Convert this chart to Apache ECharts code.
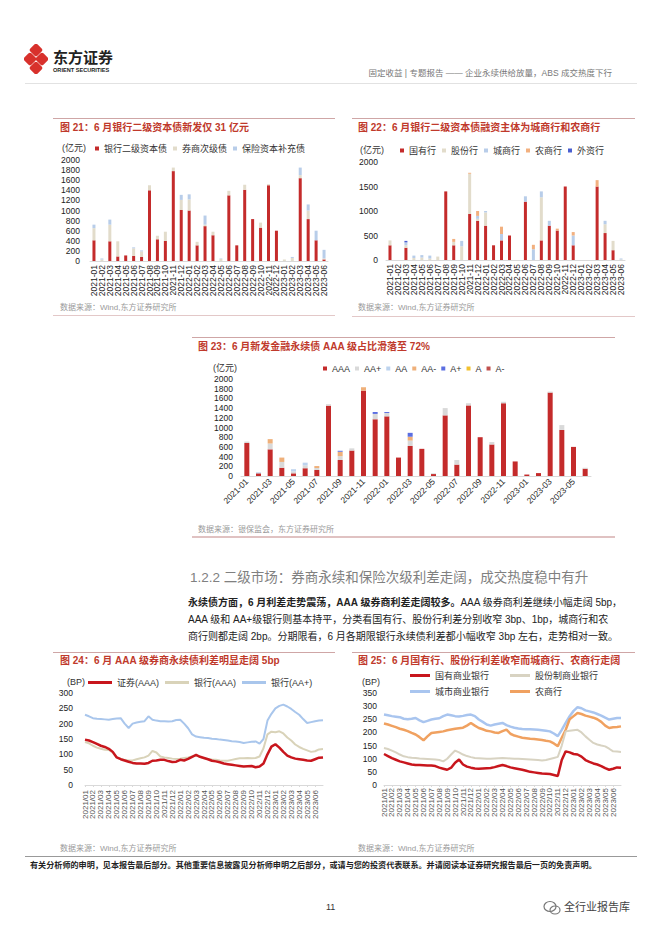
<!DOCTYPE html>
<html><head><meta charset="utf-8">
<script src="https://cdn.jsdelivr.net/npm/echarts@6/dist/echarts.min.js"></script>
<style>
html,body{margin:0;padding:0;background:#fff;}
#page{position:relative;width:660px;height:933px;overflow:hidden;font-family:"Liberation Sans","Noto Sans CJK SC",sans-serif;background:#fff;}
#chart{position:absolute;left:0;top:0;width:660px;height:933px;}
.t{position:absolute;white-space:nowrap;line-height:1;}
.ln{position:absolute;height:0;}
.ttl{font-size:10px;font-weight:bold;color:#c0392b;}
.src{font-size:8px;color:#9a9a9a;}
</style></head>
<body><div id="page"><div id="chart"></div>

<svg style="position:absolute;left:24px;top:44px" width="24" height="30" viewBox="0 0 24 30">
<g fill="#d8312c">
<rect x="7" y="1" width="10" height="10" rx="2" transform="rotate(45 12 6)"/>
<rect x="1" y="10" width="10" height="10" rx="2" transform="rotate(45 6 15)"/>
<rect x="13" y="10" width="10" height="10" rx="2" transform="rotate(45 18 15)"/>
<rect x="7" y="19" width="10" height="10" rx="2" transform="rotate(45 12 24)"/>
</g></svg>
<div class="t" style="left:53px;top:50px;font-size:15px;font-weight:bold;color:#222;">东方证券</div>
<div class="t" style="left:53px;top:68px;font-size:5.6px;font-weight:bold;color:#222;">ORIENT SECURITIES</div>
<div class="t" style="right:48px;top:69px;font-size:8.5px;color:#777;">固定收益 | 专题报告 —— 企业永续供给放量，ABS 成交热度下行</div>
<div class="ln" style="left:25px;top:83px;width:612px;border-top:1px solid #e2e2e2;"></div>

<div class="ln" style="left:53px;top:118px;width:282px;border-top:1.5px solid #cfa6a6;"></div>
<div class="t ttl" style="left:60px;top:123px;">图 21：6 月银行二级资本债新发仅 31 亿元</div>
<div class="t" style="left:62px;top:144px;font-size:9px;color:#333;">(亿元)</div>
<div class="t src" style="left:60px;top:304px;">数据来源：Wind,东方证券研究所</div>
<div class="ln" style="left:53px;top:315px;width:282px;border-top:1.5px solid #e3c8c8;"></div>

<div class="ln" style="left:352px;top:118px;width:283px;border-top:1.5px solid #cfa6a6;"></div>
<div class="t ttl" style="left:358px;top:123px;">图 22：6 月银行二级资本债融资主体为城商行和农商行</div>
<div class="t" style="left:360px;top:146px;font-size:9px;color:#333;">(亿元)</div>
<div class="t src" style="left:358px;top:304px;">数据来源：Wind,东方证券研究所</div>
<div class="ln" style="left:352px;top:316px;width:283px;border-top:1.5px solid #e3c8c8;"></div>

<div class="ln" style="left:192px;top:337px;width:423px;border-top:1.5px solid #cfa6a6;"></div>
<div class="t ttl" style="left:198px;top:342px;">图 23：6 月新发金融永续债 AAA 级占比滑落至 72%</div>
<div class="t" style="left:213px;top:364px;font-size:9px;color:#333;">(亿元)</div>
<div class="t src" style="left:198px;top:526px;">数据来源：银保监会，东方证券研究所</div>
<div class="ln" style="left:192px;top:536px;width:423px;border-top:2px solid #e0c2c2;"></div>

<div class="t" style="left:190px;top:571px;font-size:13.5px;color:#808080;">1.2.2 二级市场：券商永续和保险次级利差走阔，成交热度稳中有升</div>
<div class="t" style="left:188px;top:598px;font-size:10px;color:#222;"><b>永续债方面，6 月利差走势震荡，AAA 级券商利差走阔较多。</b>AAA 级券商利差继续小幅走阔 5bp，</div>
<div class="t" style="left:188px;top:615px;font-size:10px;color:#222;">AAA 级和 AA+级银行则基本持平，分类看国有行、股份行利差分别收窄 3bp、1bp，城商行和农</div>
<div class="t" style="left:188px;top:632px;font-size:10px;color:#222;">商行则都走阔 2bp。分期限看，6 月各期限银行永续债利差都小幅收窄 3bp 左右，走势相对一致。</div>

<div class="ln" style="left:53px;top:652px;width:282px;border-top:1.5px solid #cfa6a6;"></div>
<div class="t ttl" style="left:60px;top:656px;">图 24：6 月 AAA 级券商永续债利差明显走阔 5bp</div>
<div class="t" style="left:67px;top:678px;font-size:9px;color:#333;">(BP)</div>
<div class="t src" style="left:60px;top:845px;">数据来源：Wind,东方证券研究所</div>

<div class="ln" style="left:352px;top:652px;width:283px;border-top:1.5px solid #cfa6a6;"></div>
<div class="t ttl" style="left:358px;top:656px;">图 25：6 月国有行、股份行利差收窄而城商行、农商行走阔</div>
<div class="t" style="left:362px;top:678px;font-size:9px;color:#333;">(BP)</div>
<div class="t src" style="left:358px;top:845px;">数据来源：Wind,东方证券研究所</div>

<div class="ln" style="left:25px;top:856px;width:612px;border-top:1px solid #999;"></div>
<div class="t" style="left:30px;top:862px;font-size:8.1px;font-weight:bold;color:#222;">有关分析师的申明，见本报告最后部分。其他重要信息披露见分析师申明之后部分，或请与您的投资代表联系。并请阅读本证券研究报告最后一页的免责声明。</div>
<div class="t" style="left:326px;top:903px;font-size:9px;color:#333;">11</div>
<svg style="position:absolute;left:543px;top:900px" width="18" height="16" viewBox="0 0 18 16">
<g fill="none" stroke="#777" stroke-width="1.2"><ellipse cx="7" cy="6.5" rx="6" ry="5"/><ellipse cx="12" cy="10" rx="5" ry="4"/></g></svg>
<div class="t" style="left:564px;top:902px;font-size:11px;color:#444;">全行业报告库</div>
</div>

<script>
// ---------- categories ----------
const months = ['2021-01','2021-02','2021-03','2021-04','2021-05','2021-06','2021-07','2021-08','2021-09','2021-10','2021-11','2021-12','2022-01','2022-02','2022-03','2022-04','2022-05','2022-06','2022-07','2022-08','2022-09','2022-10','2022-11','2022-12','2023-01','2023-02','2023-03','2023-04','2023-05','2023-06'];
const days = ['2021/01/01','2021/01/16','2021/02/01','2021/02/16','2021/03/01','2021/03/16','2021/04/01','2021/04/16','2021/05/01','2021/05/16','2021/06/01','2021/06/16','2021/07/01','2021/07/16','2021/08/01','2021/08/16','2021/09/01','2021/09/16','2021/10/01','2021/10/16','2021/11/01','2021/11/16','2021/12/01','2021/12/16','2022/01/01','2022/01/16','2022/02/01','2022/02/16','2022/03/01','2022/03/16','2022/04/01','2022/04/16','2022/05/01','2022/05/16','2022/06/01','2022/06/16','2022/07/01','2022/07/16','2022/08/01','2022/08/16','2022/09/01','2022/09/16','2022/10/01','2022/10/16','2022/11/01','2022/11/16','2022/12/01','2022/12/16','2023/01/01','2023/01/16','2023/02/01','2023/02/16','2023/03/01','2023/03/16','2023/04/01','2023/04/16','2023/05/01','2023/05/16','2023/06/01','2023/06/16','2023/06/30'];

// ---------- chart 21 ----------
const bankT2    = [410,0,390,90,110,100,80,1400,430,400,1780,1010,1000,310,690,510,0,1300,310,1410,830,660,1500,600,0,0,1640,830,410,31];
const brokerSub = [240,30,330,300,0,150,110,100,70,180,70,200,220,70,30,70,40,90,0,100,0,100,20,0,30,60,60,170,0,20];
const insurSub  = [70,20,100,0,0,20,20,0,0,0,0,100,100,0,180,0,10,0,0,0,0,0,0,0,0,20,150,120,190,170];

// ---------- chart 22 ----------
const soeBank     = [300,0,250,0,0,0,0,1400,300,0,940,800,700,300,400,500,0,1190,0,400,700,600,1500,300,0,0,1500,550,200,0];
const jointBank   = [100,0,50,40,50,30,70,0,70,280,820,40,270,0,0,0,0,0,0,880,0,0,0,0,0,0,0,180,190,11];
const cityBank    = [0,0,60,50,50,60,0,0,0,110,0,60,30,0,130,0,0,110,220,120,100,0,0,200,0,0,0,70,0,20];
const ruralBank   = [0,0,0,0,0,0,0,0,60,0,20,100,0,0,150,0,0,0,90,0,0,40,0,70,0,0,130,0,0,0];
const foreignBank = [0,0,30,0,0,0,0,0,0,0,0,0,0,0,0,0,0,0,0,0,0,0,0,0,0,0,0,0,0,0];

// ---------- chart 23 ----------
const rAAA = [680,55,550,170,55,160,125,1450,330,525,1760,1170,1230,380,620,560,40,1250,235,1455,800,650,1500,300,30,60,1720,950,600,150];
const rAAp = [30,0,120,120,40,60,40,30,80,45,0,110,70,0,110,0,15,150,95,45,0,50,30,0,0,0,20,100,0,20];
const rAA  = [0,20,0,0,45,55,0,0,0,0,0,0,0,0,0,0,0,0,0,0,0,0,0,0,0,0,0,0,0,0];
const rAAm = [0,0,90,90,0,0,40,0,90,0,70,0,0,0,80,0,0,0,0,0,0,0,0,0,0,0,0,0,0,0];
const rAp  = [0,0,0,0,0,0,0,0,20,0,0,40,20,0,80,0,0,0,0,0,0,0,0,0,0,0,0,0,0,0];
const rA   = [0,0,0,0,0,0,0,0,0,0,0,0,0,0,0,0,0,0,0,0,0,0,0,0,0,0,0,0,0,0];
const rAm  = [0,0,0,0,0,0,0,0,0,0,0,0,0,0,0,0,0,0,0,0,0,0,0,0,0,0,0,0,0,0];

// ---------- chart 24 (BP) ----------
const secAAA  = [148,145,140,134,128,124,118,108,90,84,80,76,72,70,70,69,72,79,80,82,82,78,75,76,82,80,85,92,98,92,88,84,79,77,74,70,68,66,64,62,60,61,62,58,60,70,100,125,133,122,108,96,90,86,84,82,80,79,84,89,90];
const bankAAA = [140,136,128,122,118,115,114,105,90,85,82,80,80,84,87,90,96,111,106,93,90,88,86,85,86,88,90,93,96,92,87,85,83,82,80,79,79,82,85,87,87,88,87,88,93,120,165,174,172,175,168,155,145,132,124,118,113,108,110,116,117];
const bankAAp = [229,224,218,216,215,214,213,215,217,218,200,186,200,204,206,208,224,213,210,208,208,207,208,212,213,200,185,165,158,156,154,153,151,150,148,147,145,143,142,140,137,139,141,142,135,150,210,232,250,258,262,256,248,238,229,215,202,205,208,210,211];

// ---------- chart 25 (BP) ----------
const soeSpr   = [118,110,102,96,90,86,82,78,76,76,75,74,74,72,66,62,58,66,85,97,78,70,66,63,62,63,64,65,68,72,76,72,67,64,61,58,54,50,48,46,44,43,42,38,34,95,128,124,118,116,108,95,88,82,78,72,64,58,62,67,66];
const jointSpr = [141,137,131,124,116,109,106,104,103,101,100,99,98,97,95,90,100,116,131,124,116,110,106,103,102,101,100,100,101,102,103,102,101,100,100,99,98,97,96,95,93,95,99,103,107,150,204,206,208,210,200,185,172,160,154,150,147,138,128,127,126];
const citySpr  = [268,265,262,260,258,252,250,252,255,246,239,244,249,252,254,262,268,265,262,261,263,266,268,262,249,240,230,226,230,233,236,228,222,218,215,213,212,212,211,210,208,206,204,196,186,210,236,262,282,296,292,284,280,276,270,264,256,249,252,255,255];
const ruralSpr = [234,230,225,220,214,210,205,198,192,182,170,185,198,200,202,204,208,211,214,216,218,226,236,226,217,212,206,204,200,198,205,211,195,188,184,180,178,176,175,173,171,168,166,158,148,180,210,250,262,274,270,264,260,256,250,240,226,217,220,221,223];

const FF = 'Liberation Sans, Noto Sans CJK SC, sans-serif';
const RED='#c42b2b', BEIGE='#e2dccb', LBLUE='#b8cde9', ORANGE='#f2b07f';

function barX(gi, rotate, interval){
  return {type:'category', gridIndex:gi, data:months, boundaryGap:true,
    axisLine:{lineStyle:{color:'#d9d9d9'}}, axisTick:{show:false},
    axisLabel:{rotate:rotate, interval:interval, fontSize:8.5, color:'#222', margin:4, fontFamily:FF}};
}
function valY(gi, max, itv, margin){
  return {type:'value', gridIndex:gi, min:0, max:max, interval:itv,
    axisLine:{show:false}, axisTick:{show:false}, splitLine:{show:false},
    axisLabel:{fontSize:8.5, color:'#222', margin:margin, fontFamily:FF,
      formatter:function(v){return String(v);}}};
}
const dayInterval = function(i, v){ return v.slice(8) === '01'; };
function lineX(gi, margin){
  return {type:'category', gridIndex:gi, data:days, boundaryGap:false,
    axisLine:{lineStyle:{color:'#d9d9d9'}},
    axisTick:{show:true, interval:dayInterval, length:2, lineStyle:{color:'#d9d9d9'}},
    axisLabel:{rotate:90, interval:dayInterval, fontSize:8, color:'#555', margin:margin, fontFamily:FF,
      formatter:function(v){return v.slice(0,7);}}};
}
function bar(name, gi, stack, data, color, w){
  return {type:'bar', name:name, xAxisIndex:gi, yAxisIndex:gi, stack:stack, data:data, barWidth:w,
    itemStyle:{color:color}, silent:true};
}
function line(name, gi, data, color, w){
  return {type:'line', name:name, xAxisIndex:gi, yAxisIndex:gi, data:data, showSymbol:false, symbol:'none',
    lineStyle:{color:color, width:w}, itemStyle:{color:color}, silent:true};
}
const legTxt = {fontSize:9, color:'#333', fontFamily:FF};

const option = {
  animation:false,
  backgroundColor:'transparent',
  textStyle:{fontFamily:FF},
  grid:[
    {left:90, top:160, width:238, height:101},
    {left:386, top:162, width:239, height:98},
    {left:241, top:379, width:350, height:97},
    {left:85, top:693, width:238, height:92},
    {left:384, top:693, width:237, height:92}
  ],
  xAxis:[ barX(0,90,0), barX(1,90,0), barX(2,45,1), lineX(3,5), lineX(4,3) ],
  yAxis:[ valY(0,2000,200,10), valY(1,2000,500,8), valY(2,2000,200,8), valY(3,300,50,12), valY(4,350,50,7) ],
  legend:[
    {left:95, top:144, padding:0, itemWidth:4, itemHeight:4, itemGap:6, icon:'rect', textStyle:legTxt,
     data:['银行二级资本债','券商次级债','保险资本补充债']},
    {left:400, top:146, padding:0, itemWidth:4, itemHeight:4, itemGap:6, icon:'rect', textStyle:legTxt,
     data:['国有行','股份行','城商行','农商行','外资行']},
    {left:323, top:364, padding:0, itemWidth:4, itemHeight:4, itemGap:5, icon:'rect', textStyle:legTxt,
     data:['AAA','AA+','AA','AA-','A+','A','A-']},
    {left:88, top:678, padding:0, itemWidth:24, itemHeight:3, itemGap:6, icon:'rect', textStyle:legTxt,
     data:['证券(AAA)','银行(AAA)','银行(AA+)']},
    {left:410, top:671, padding:0, itemWidth:20, itemHeight:3, itemGap:21, icon:'rect', textStyle:legTxt,
     data:['国有商业银行','股份制商业银行']},
    {left:410, top:687, padding:0, itemWidth:20, itemHeight:3, itemGap:21, icon:'rect', textStyle:legTxt,
     data:['城市商业银行',{name:'农商行', itemStyle:{color:'#f0a160'}}]}
  ],
  series:[
    bar('银行二级资本债',0,'s21',bankT2,RED,3),
    bar('券商次级债',0,'s21',brokerSub,BEIGE,3),
    bar('保险资本补充债',0,'s21',insurSub,LBLUE,3),

    bar('国有行',1,'s22',soeBank,RED,3),
    bar('股份行',1,'s22',jointBank,BEIGE,3),
    bar('城商行',1,'s22',cityBank,LBLUE,3),
    bar('农商行',1,'s22',ruralBank,ORANGE,3),
    bar('外资行',1,'s22',foreignBank,'#4a5fd0',3),

    bar('AAA',2,'s23',rAAA,RED,5),
    bar('AA+',2,'s23',rAAp,'#d9d9d9',5),
    bar('AA',2,'s23',rAA,'#bdd3ee',5),
    bar('AA-',2,'s23',rAAm,'#efb07a',5),
    bar('A+',2,'s23',rAp,'#5b6ee1',5),
    bar('A',2,'s23',rA,'#f2c12e',5),
    bar('A-',2,'s23',rAm,'#c0504d',5),

    line('银行(AA+)',3,bankAAp,'#a9c6ec',2),
    line('银行(AAA)',3,bankAAA,'#d9d3b9',2),
    line('证券(AAA)',3,secAAA,'#c8161d',2.5),

    line('城市商业银行',4,citySpr,'#a9c5ef',2.5),
    line('农商行',4,ruralSpr,'#f0a160',2.5),
    line('股份制商业银行',4,jointSpr,'#d8d3c2',2),
    line('国有商业银行',4,soeSpr,'#c8161d',2.5)
  ]
};
const chart = echarts.init(document.getElementById('chart'), null, {renderer:'svg', width:660, height:933});
chart.setOption(option);
</script>
</body></html>
